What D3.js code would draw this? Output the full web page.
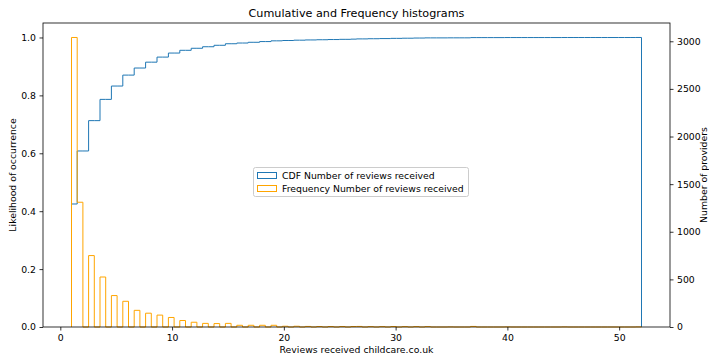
<!DOCTYPE html>
<html>
<head>
<meta charset="utf-8">
<script src="https://cdn.jsdelivr.net/npm/d3@7"></script>
<style>
  html, body { margin: 0; padding: 0; background: #fff; }
  svg { display: block; font-family: "DejaVu Sans", sans-serif; }
</style>
</head>
<body>
<svg id="chart" width="709" height="359"></svg>
<script>
// Number of reviews received (integer values) and number of providers with that count
const reviewValues = [1, 2, 3, 4, 5, 6, 7, 8, 9, 10, 11, 12, 13, 14, 15, 16, 17, 18, 19, 20, 21,
  22, 23, 24, 25, 26, 27, 28, 29, 30, 31, 32, 33, 35, 37, 40, 45, 52];
const providerCounts = [3040, 1310, 750, 525, 330, 270, 175, 145, 125, 100, 68, 50, 38, 36, 38, 18, 18, 18, 18, 8, 8,
  6, 5, 5, 5, 5, 6, 4, 4, 5, 4, 4, 4, 1, 6, 1, 1, 1];
const binCount = 100;
const xTicks = [0, 10, 20, 30, 40, 50];
const yLeftTicks = [0, 0.2, 0.4, 0.6, 0.8, 1.0];
const yRightTicks = [0, 500, 1000, 1500, 2000, 2500, 3000];
const titleText = "Cumulative and Frequency histograms";
const xLabel = "Reviews received childcare.co.uk";
const yLeftLabel = "Likelihood of occurrence";
const yRightLabel = "Number of providers";
const legendLabels = ["CDF Number of reviews received", "Frequency Number of reviews received"];

const blue = "#1f77b4", orange = "#ffa500";
const fs = 9.3, fsTitle = 11.2;

// expand to raw observations
const raw = [];
reviewValues.forEach((v, i) => { for (let k = 0; k < providerCounts[i]; k++) raw.push(v); });

const lo = d3.min(raw), hi = d3.max(raw);
const step = (hi - lo) / binCount;
const thresholds = d3.range(1, binCount).map(i => lo + i * step);
const bins = d3.bin().domain([lo, hi]).thresholds(thresholds)(raw);
const counts = bins.map(b => b.length);
const total = d3.sum(counts);
const cum = d3.cumsum(counts).map(c => c / total);

const L = 43, R = 670, T = 23, B = 327;
const xPad = (hi - lo) * 0.05;
const x = d3.scaleLinear().domain([lo - xPad, hi + xPad]).range([L, R]);
const yL = d3.scaleLinear().domain([0, 1.05]).range([B, T]);
const yR = d3.scaleLinear().domain([0, d3.max(counts) * 1.05]).range([B, T]);

const svg = d3.select("#chart");

function stepPoints(vals) {
  const pts = [[bins[0].x0, 0]];
  bins.forEach((b, i) => { pts.push([b.x0, vals[i]]); pts.push([b.x1, vals[i]]); });
  pts.push([bins[bins.length - 1].x1, 0]);
  return pts;
}

// CDF (left axis)
svg.append("path")
  .attr("d", d3.line().x(d => x(d[0])).y(d => yL(d[1]))(stepPoints(cum)))
  .attr("fill", "none").attr("stroke", blue).attr("stroke-width", 1)
  .attr("stroke-linejoin", "miter");

// Frequency (right axis)
svg.append("path")
  .attr("d", d3.line().x(d => x(d[0])).y(d => yR(d[1]))(stepPoints(counts)))
  .attr("fill", "none").attr("stroke", orange).attr("stroke-width", 1)
  .attr("stroke-linejoin", "miter");

// axes
const fmt1 = d3.format(".1f");
const gx = svg.append("g").attr("transform", `translate(0,${B})`)
  .call(d3.axisBottom(x).tickValues(xTicks).tickSize(3.5).tickPadding(3.5).tickFormat(d3.format("d")));
const gyl = svg.append("g").attr("transform", `translate(${L},0)`)
  .call(d3.axisLeft(yL).tickValues(yLeftTicks).tickSize(3.5).tickPadding(3.5).tickFormat(fmt1));
const gyr = svg.append("g").attr("transform", `translate(${R},0)`)
  .call(d3.axisRight(yR).tickValues(yRightTicks).tickSize(3.5).tickPadding(3.5).tickFormat(d3.format("d")));
[gx, gyl, gyr].forEach(g => {
  g.select(".domain").remove();
  g.selectAll("text").attr("font-size", fs).attr("fill", "#000").attr("font-family", "DejaVu Sans");
  g.selectAll("line").attr("stroke", "#000").attr("stroke-width", 0.8);
});

// spines
svg.append("rect").attr("x", L).attr("y", T).attr("width", R - L).attr("height", B - T)
  .attr("fill", "none").attr("stroke", "#000").attr("stroke-width", 0.8);

// title and labels
svg.append("text").attr("x", (L + R) / 2).attr("y", 17).attr("text-anchor", "middle")
  .attr("font-size", fsTitle).attr("fill", "#000").text(titleText);
svg.append("text").attr("x", (L + R) / 2).attr("y", 353).attr("text-anchor", "middle")
  .attr("font-size", fs).attr("fill", "#000").text(xLabel);
svg.append("text").attr("transform", `translate(16,${(T + B) / 2}) rotate(-90)`).attr("text-anchor", "middle")
  .attr("font-size", fs).attr("fill", "#000").text(yLeftLabel);
svg.append("text").attr("transform", `translate(706.5,${(T + B) / 2}) rotate(-90)`).attr("text-anchor", "middle")
  .attr("font-size", fs).attr("fill", "#000").text(yRightLabel);

// legend
const lg = svg.append("g");
lg.append("rect").attr("x", 253.5).attr("y", 167.5).attr("width", 215).attr("height", 29).attr("rx", 2)
  .attr("fill", "#fff").attr("fill-opacity", 0.8).attr("stroke", "#ccc").attr("stroke-width", 1);
[blue, orange].forEach((c, i) => {
  lg.append("rect").attr("x", 257.5).attr("y", 172.5 + i * 13).attr("width", 19).attr("height", 6)
    .attr("fill", "none").attr("stroke", c).attr("stroke-width", 1);
  lg.append("text").attr("x", 282).attr("y", 178.5 + i * 13).attr("font-size", fs).attr("fill", "#000")
    .text(legendLabels[i]);
});
</script>
</body>
</html>
